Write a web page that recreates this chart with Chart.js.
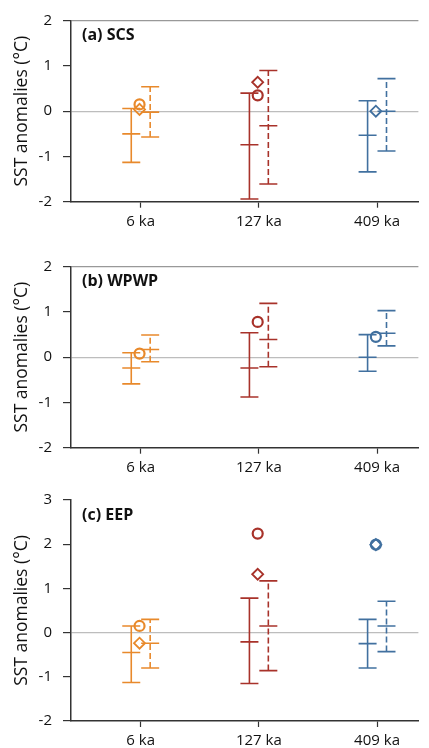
<!DOCTYPE html>
<html>
<head>
<meta charset="utf-8">
<script src="https://cdn.jsdelivr.net/npm/chart.js@4.4.1/dist/chart.umd.min.js"></script>
<style>
  body { margin: 0; background: #fff; overflow: hidden; }
  canvas { position: absolute; left: 0; }
</style>
</head>
<body>
<canvas id="chartA" width="429" height="240" style="top:0"></canvas>
<canvas id="chartB" width="429" height="240" style="top:240px"></canvas>
<canvas id="chartC" width="429" height="268" style="top:480px"></canvas>
<script>
'use strict'

// ---------------- data ----------------
var categories = ['6 ka', '127 ka', '409 ka'];
var colors = ['#E8892B', '#A8322A', '#41709F'];

// [low, middle, high] for each category
var scsSolid = [[-1.13, -0.50, 0.06], [-1.94, -0.74, 0.40], [-1.34, -0.53, 0.23]];
var scsDashed = [[-0.57, -0.02, 0.54], [-1.61, -0.32, 0.90], [-0.88, 0.00, 0.72]];
var scsCircle = [0.15, 0.35, null];
var scsDiamond = [0.04, 0.64, 0.00];

var wpwpSolid = [[-0.59, -0.24, 0.10], [-0.88, -0.24, 0.54], [-0.31, 0.00, 0.50]];
var wpwpDashed = [[-0.10, 0.17, 0.49], [-0.21, 0.39, 1.19], [0.25, 0.53, 1.03]];
var wpwpCircle = [0.08, 0.78, 0.45];
var wpwpDiamond = [null, null, null];

var eepSolid = [[-1.13, -0.45, 0.15], [-1.15, -0.21, 0.78], [-0.80, -0.25, 0.30]];
var eepDashed = [[-0.80, -0.24, 0.30], [-0.86, 0.15, 1.17], [-0.43, 0.15, 0.71]];
var eepCircle = [0.15, 2.24, 1.99];
var eepDiamond = [-0.24, 1.32, 1.99];

var yTicksA = [-2, 2];
var yTicksC = [-2, 3];

// ------------- build datasets from the arrays -------------
function buildDatasets(solid, dashed, circle, diamond) {
  let sets = [];
  for (let i = 0; i < categories.length; i++) {
    let c = i + 1;
    let col = colors[i];
    sets.push({
      type: 'line',
      data: solid[i].map(v => ({ x: c - 0.08, y: v })),
      borderColor: col, borderWidth: 1.6,
      pointStyle: 'line', pointRadius: 9, pointBorderWidth: 1.6, pointBorderColor: col
    });
    sets.push({
      type: 'line',
      data: dashed[i].map(v => ({ x: c + 0.08, y: v })),
      borderColor: col, borderWidth: 1.6, borderDash: [6, 3],
      pointStyle: 'line', pointRadius: 9, pointBorderWidth: 1.6, pointBorderColor: col
    });
    if (diamond[i] !== null) {
      sets.push({
        type: 'scatter',
        data: [{ x: c - 0.01, y: diamond[i] }],
        pointStyle: 'rectRot', pointRadius: 5.5, borderWidth: 1.8,
        borderColor: col, backgroundColor: 'rgba(255,255,255,0)'
      });
    }
    if (circle[i] !== null) {
      sets.push({
        type: 'scatter',
        data: [{ x: c - 0.01, y: circle[i] }],
        pointStyle: 'circle', pointRadius: 5, borderWidth: 2.2,
        borderColor: col, backgroundColor: 'rgba(255,255,255,0)'
      });
    }
  }
  return sets;
}

// panel letter label drawn inside the plot
var panelLabel = {
  id: 'panelLabel',
  afterDraw(chart, args, opts) {
    let ctx = chart.ctx;
    ctx.save();
    ctx.font = 'bold 16px "Open Sans", sans-serif';
    ctx.fillStyle = '#111';
    ctx.textBaseline = 'middle';
    ctx.fillText(opts.text, chart.chartArea.left + 11, chart.chartArea.top + 15);
    ctx.restore();
  }
};

function makeChart(id, datasets, label, yRange, padTop, xHeight, topLine) {
  let ctx = document.getElementById(id).getContext('2d');
  return new Chart(ctx, {
    data: { datasets: datasets },
    plugins: [panelLabel],
    options: {
      responsive: false,
      animation: false,
      devicePixelRatio: 1,
      layout: { padding: { top: padTop, right: 0, left: 0, bottom: 0 } },
      plugins: {
        legend: { display: false },
        tooltip: { enabled: false },
        panelLabel: { text: label }
      },
      scales: {
        x: {
          type: 'linear',
          min: 0.41, max: 3.35,
          afterBuildTicks: function(scale) {
            scale.ticks = categories.map((c, i) => ({ value: i + 1 }));
          },
          afterFit: function(scale) { scale.height = xHeight; },
          ticks: {
            callback: function(v) { return categories[v - 1]; },
            color: '#111', font: { size: 15, family: '"Open Sans", sans-serif' },
            maxRotation: 0, padding: 5
          },
          grid: { drawOnChartArea: false, tickLength: 6, tickColor: '#333', tickWidth: 1.2 },
          border: { color: '#333', width: 1.5 }
        },
        y: {
          min: yRange[0], max: yRange[1],
          afterFit: function(scale) { scale.width = 71; },
          ticks: {
            stepSize: 1, color: '#111',
            font: { size: 15, family: '"Open Sans", sans-serif' }, padding: 11
          },
          grid: {
            color: function(c) {
              if (c.tick && c.tick.value === 0) return '#BDBDBD';
              if (topLine && c.tick && c.tick.value === yRange[1]) return '#999';
              return 'rgba(0,0,0,0)';
            },
            lineWidth: 1.2, tickLength: 8, tickColor: '#333', tickWidth: 1.2
          },
          border: { color: '#333', width: 1.5 },
          title: {
            display: true, text: 'SST anomalies (°C)', color: '#111',
            font: { size: 17.5, family: '"Open Sans", sans-serif' },
            padding: { top: 12, bottom: 0 }
          }
        }
      }
    }
  });
}

makeChart('chartA', buildDatasets(scsSolid, scsDashed, scsCircle, scsDiamond), '(a) SCS', yTicksA, 20.7, 38.3, true);
makeChart('chartB', buildDatasets(wpwpSolid, wpwpDashed, wpwpCircle, wpwpDiamond), '(b) WPWP', yTicksA, 26.7, 32.3, true);
makeChart('chartC', buildDatasets(eepSolid, eepDashed, eepCircle, eepDiamond), '(c) EEP', yTicksC, 15, 27, false);
</script>
</body>
</html>
